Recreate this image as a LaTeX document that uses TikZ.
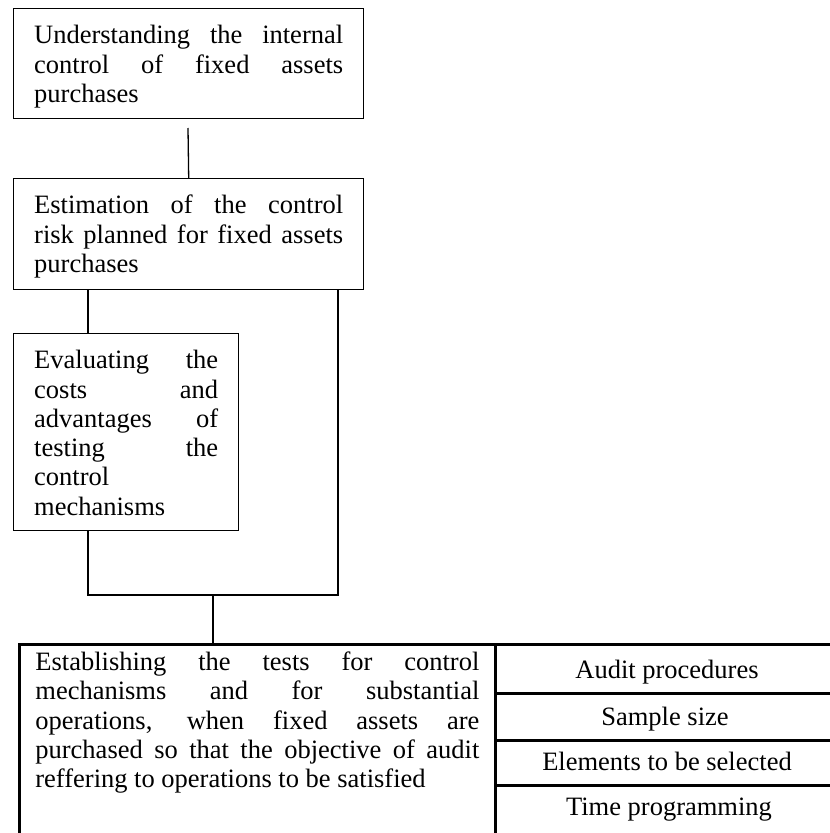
\documentclass[tikz,border=0pt]{standalone}
\usepackage{fontspec}
\setmainfont{Liberation Serif}
\usetikzlibrary{positioning}
\usetikzlibrary{calc}
\newcommand{\stagefont}{\fontsize{26.5pt}{29.3pt}\selectfont}
\newcommand{\stagetext}[4]{\parbox[t][#2][t]{#1}{\rule{0pt}{#3}#4}}
\tolerance=10000 \hbadness=10000 \vbadness=10000 \hfuzz=50pt
\hyphenpenalty=10000 \exhyphenpenalty=10000

\begin{document}
\begin{tikzpicture}[x=1pt,y=-1pt,
  stage/.style={draw,line width=1.4pt,anchor=north west,inner xsep=20.5pt,inner ysep=0pt,font=\stagefont},
  cell/.style={draw,line width=2.8pt,anchor=north west,inner sep=0pt,minimum width=350pt},
  link/.style={line width=1.3pt}]
  \useasboundingbox (0,0) rectangle (830,833);
  \clip (0,0) rectangle (830,833);

  % stages
  \node[stage] (understand) at (13,8) {\stagetext{309pt}{110pt}{35pt}{Understanding the internal\linebreak control of fixed assets\linebreak purchases}};
  \node[stage] (estimate) at (13,178) {\stagetext{309pt}{111pt}{35pt}{Estimation of the control\linebreak risk planned for fixed assets\linebreak purchases}};
  \node[stage] (costs) at (13,333) {\stagetext{184pt}{197pt}{35pt}{Evaluating the\linebreak costs and\linebreak advantages of\linebreak testing the\linebreak control\linebreak mechanisms}};

  % table
  \node[stage,line width=2.8pt,inner xsep=16pt] (tests) at (18,643) {\stagetext{444pt}{207pt}{26pt}{Establishing the tests for control\linebreak mechanisms and for substantial\linebreak operations, when fixed assets are\linebreak purchased so that the objective of audit\linebreak reffering to operations to be satisfied}};
  \node[cell,minimum height=49pt] (audit) at (494,643) {};
  \node[cell,minimum height=47pt] (sample) at (494,692) {};
  \node[cell,minimum height=45pt] (select) at (494,739) {};
  \node[cell,minimum height=66pt] (timing) at (494,784) {};
  \node[anchor=base,font=\stagefont] (audittxt) at (667,678) {Audit procedures};
  \node[anchor=base,font=\stagefont] (sampletxt) at (665,725) {Sample size};
  \node[anchor=base,font=\stagefont] (selecttxt) at (667,770) {Elements to be selected};
  \node[anchor=base,font=\stagefont] (timingtxt) at (669,815) {Time programming};

  % connectors
  \coordinate (gap) at (188,128);
  \coordinate (joinL) at (88,595);
  \coordinate (joinR) at (338,595);
  \coordinate (joinM) at (213,595);
  \draw[link] (gap) -- (estimate.north);
  \draw[link] (estimate.south -| joinL) -- (costs.north -| joinL);
  \draw[link] (costs.south -| joinL) -- (joinL) -- (joinR) -- (estimate.south -| joinR);
  \draw[link] (joinM) -- (tests.north -| joinM);
\end{tikzpicture}
\end{document}
